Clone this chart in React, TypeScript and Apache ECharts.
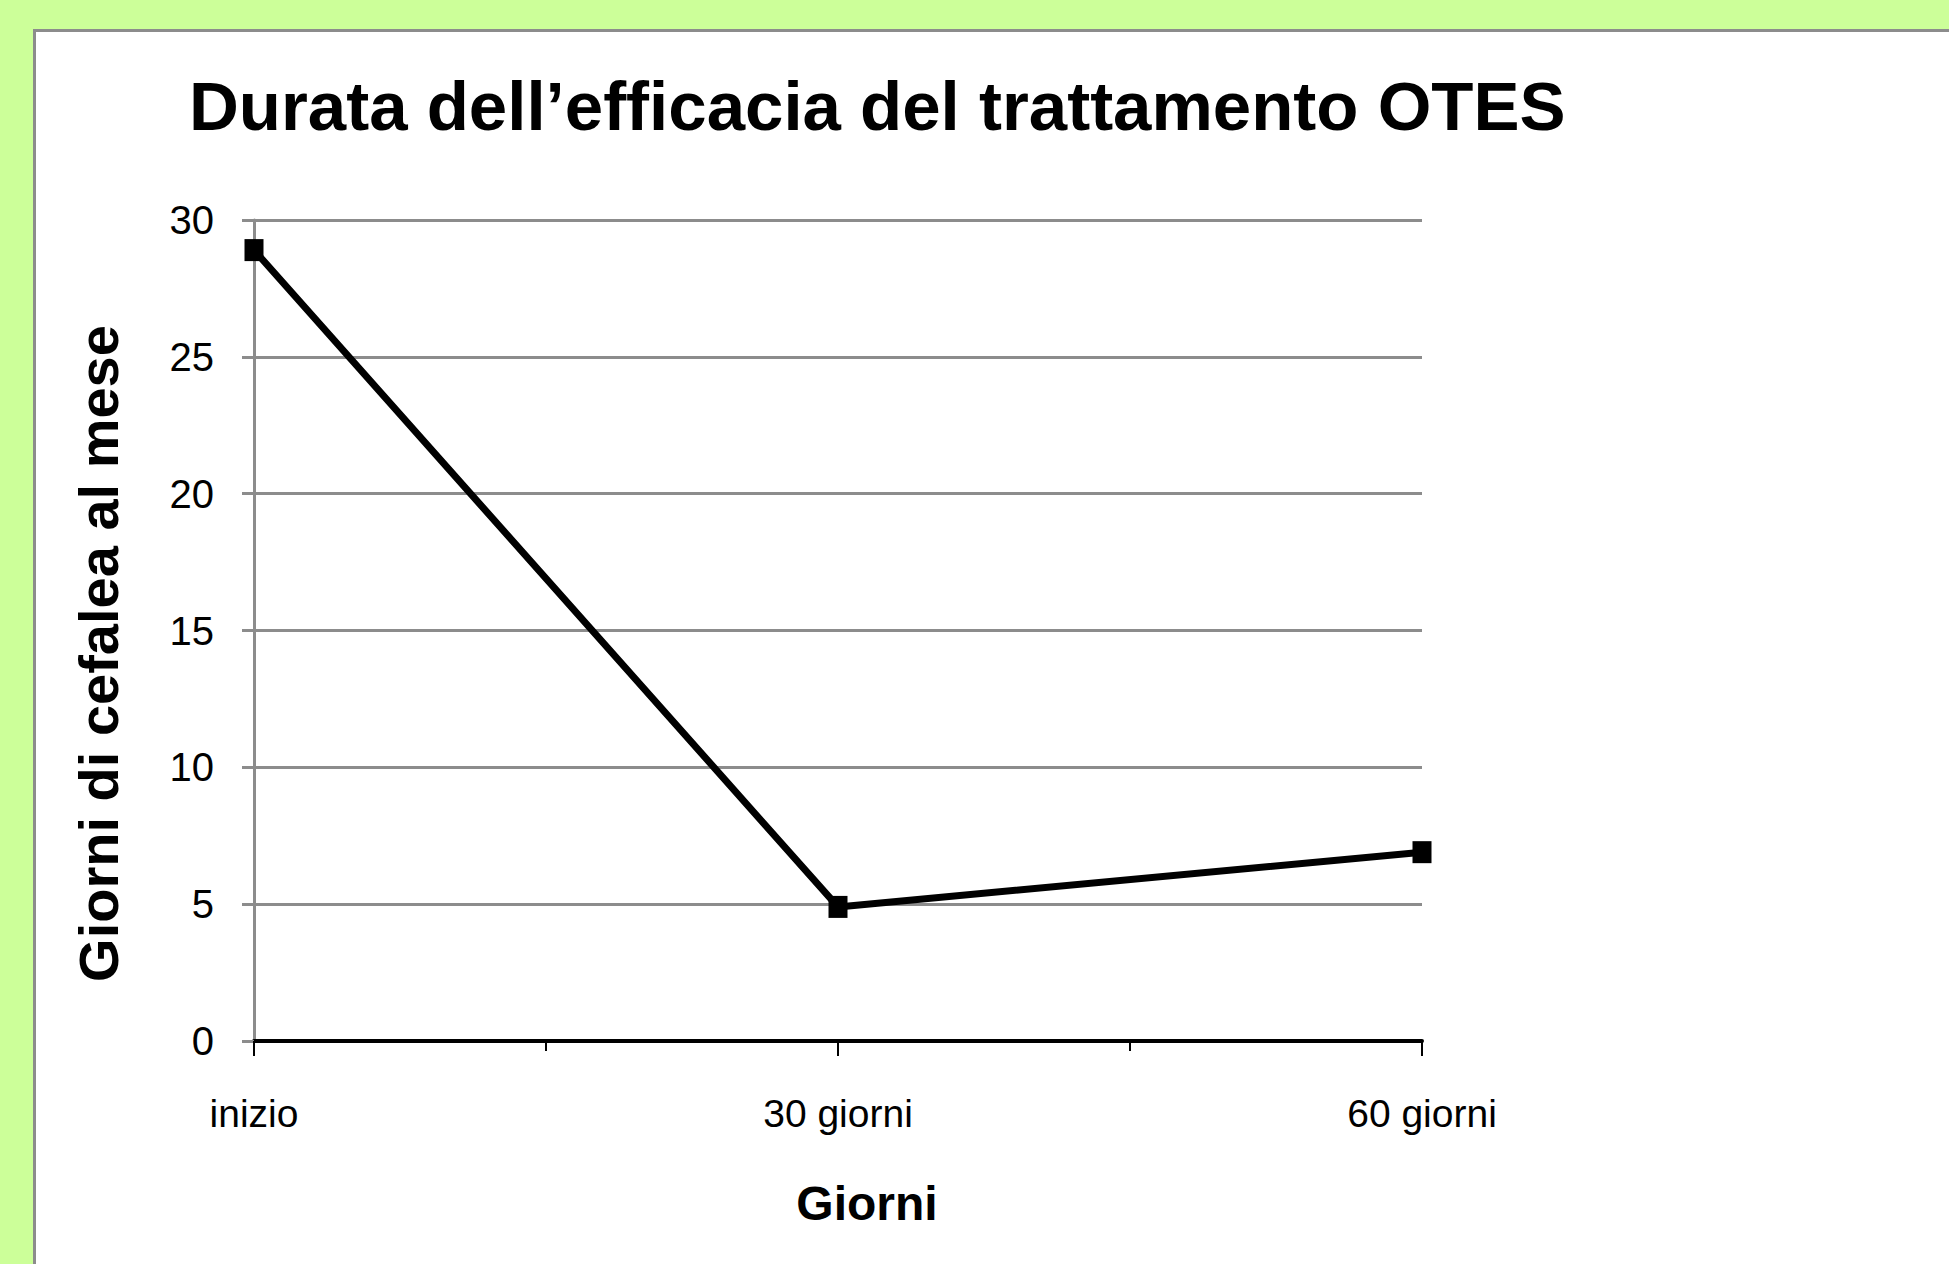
import React, { useEffect, useRef } from "react";
import * as echarts from "echarts";

const chartTitle = "Durata dell\u2019efficacia del trattamento OTES";
const categories = ["inizio", "30 giorni", "60 giorni"];
const values = [28.9, 4.9, 6.9];
const yAxisTitle = "Giorni di cefalea al mese";
const xAxisTitle = "Giorni";
const yMin = 0;
const yMax = 30;
const yStep = 5;

const arial = "'Liberation Sans', Arial, sans-serif";

export default function App() {
  const ref = useRef<HTMLDivElement>(null);

  useEffect(() => {
    if (!ref.current) return;
    const chart = echarts.init(ref.current, undefined, { renderer: "svg" });
    const seriesData = values.map((v, i) => [i, v]);
    chart.setOption({
      animation: false,
      backgroundColor: "transparent",
      title: {
        text: chartTitle,
        left: 189,
        top: 72,
        padding: 0,
        textStyle: {
          fontFamily: arial,
          fontWeight: "bold",
          fontSize: 69,
          color: "#000",
        },
      },
      grid: {
        left: 254,
        top: 220,
        right: 527,
        bottom: 223,
        containLabel: false,
      },
      xAxis: {
        type: "value",
        min: 0,
        max: categories.length - 1,
        interval: 1,
        name: xAxisTitle,
        nameLocation: "middle",
        nameGap: 138,
        nameTextStyle: {
          fontFamily: arial,
          fontWeight: "bold",
          fontSize: 48,
          color: "#000",
          padding: [0, 0, 0, 58],
        },
        axisLine: { show: true, onZero: false, lineStyle: { color: "#000", width: 4 } },
        axisTick: { show: true, length: 15, lineStyle: { color: "#000", width: 2 } },
        minorTick: { show: true, splitNumber: 2, length: 10, lineStyle: { color: "#000", width: 2 } },
        splitLine: { show: false },
        minorSplitLine: { show: false },
        axisLabel: {
          margin: 53,
          fontFamily: arial,
          fontSize: 39,
          color: "#000",
          formatter: (v: number) => (Number.isInteger(v) ? categories[v] ?? "" : ""),
        },
      },
      yAxis: {
        type: "value",
        min: yMin,
        max: yMax,
        interval: yStep,
        name: yAxisTitle,
        nameLocation: "middle",
        nameGap: 128,
        nameTextStyle: {
          fontFamily: arial,
          fontWeight: "bold",
          fontSize: 56,
          color: "#000",
          padding: [0, 46, 0, 0],
        },
        axisLine: { show: true, lineStyle: { color: "#8c8c8c", width: 3 } },
        axisTick: { show: true, length: 12, lineStyle: { color: "#8c8c8c", width: 3 } },
        splitLine: { show: true, lineStyle: { color: "#8c8c8c", width: 3 } },
        axisLabel: {
          margin: 40,
          fontFamily: arial,
          fontSize: 40,
          color: "#000",
          padding: [8, 0, 0, 0],
        },
      },
      series: [
        {
          type: "line",
          data: seriesData,
          symbol: "rect",
          symbolSize: [19, 22],
          itemStyle: { color: "#000" },
          lineStyle: { color: "#000", width: 7 },
          z: 5,
        },
      ],
    });
    return () => chart.dispose();
  }, []);

  return (
    <div
      style={{
        position: "fixed",
        left: 0,
        top: 0,
        width: 1949,
        height: 1264,
        background: "#ccff99",
        overflow: "hidden",
      }}
    >
      <div
        style={{
          position: "absolute",
          left: 33,
          top: 29,
          width: 2000,
          height: 1400,
          background: "#ffffff",
          border: "3px solid #8c8c8c",
          boxSizing: "border-box",
        }}
      />
      <div
        ref={ref}
        style={{ position: "absolute", left: 0, top: 0, width: 1949, height: 1264 }}
      />
    </div>
  );
}
